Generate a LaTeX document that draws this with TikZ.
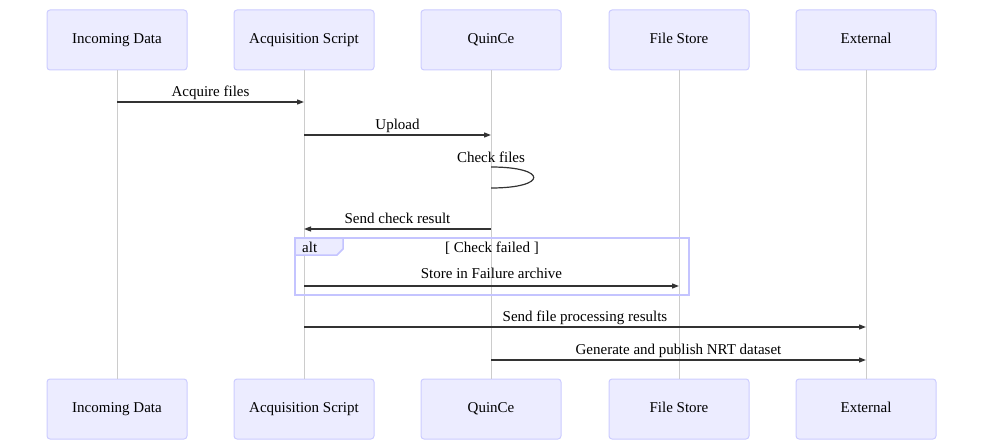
\documentclass[tikz,border=0pt]{standalone}
\usepackage{fontspec}
\setmainfont{Liberation Serif}
\usetikzlibrary{arrows.meta}

\definecolor{actorfill}{HTML}{ECECFF}
\definecolor{actorline}{HTML}{CCCCFF}
\definecolor{altline}{HTML}{C4C4FF}
\definecolor{lifegray}{HTML}{CCCCCC}
\definecolor{msgline}{HTML}{333333}

\begin{document}
\begin{tikzpicture}[x=1pt,y=-1pt,
    actor/.style={draw=actorline,fill=actorfill,line width=1pt,rounded corners=3pt,
      minimum width=140pt,minimum height=60pt,text height=10pt,text depth=3pt,
      font=\fontsize{15}{17}\selectfont},
    lifeline/.style={draw=lifegray,line width=1pt},
    msg/.style={draw=msgline,line width=1.2pt,-{Triangle[length=7pt,width=5pt]}},
    lbl/.style={font=\fontsize{15}{17}\selectfont,inner sep=0pt,anchor=base,yshift=6pt}]
  \useasboundingbox (0,0) rectangle (984,441);

  % participants, top and bottom
  \node[actor] (inc) at (117,40) {Incoming Data};
  \node[actor] (acq) at (304,40) {Acquisition Script};
  \node[actor] (qc)  at (491,40) {QuinCe};
  \node[actor] (fs)  at (679,40) {File Store};
  \node[actor] (ext) at (866,40) {External};

  \node[actor] (inc-b) at (117,409) {Incoming Data};
  \node[actor] (acq-b) at (304,409) {Acquisition Script};
  \node[actor] (qc-b)  at (491,409) {QuinCe};
  \node[actor] (fs-b)  at (679,409) {File Store};
  \node[actor] (ext-b) at (866,409) {External};

  \foreach \a in {inc,acq,qc,fs,ext}
    \draw[lifeline] (\a.south) -- (\a-b.north);

  % alt frame
  \draw[altline,line width=1.5pt] (295,238) rectangle (689,295);
  \draw[altline,line width=1.5pt,fill=actorfill] (295,238) -- (343,238) -- (343,249)
    -- (337,255) -- (295,255) -- cycle;
  \node[font=\fontsize{15}{17}\selectfont,inner sep=0pt,anchor=base west] (altlbl) at (302,252) {alt};
  \node[font=\fontsize{15}{17}\selectfont,inner sep=0pt,anchor=base] (cond) at (492,252) {[ Check failed ]};

  % messages
  \coordinate (m1) at (0,102);
  \coordinate (m2) at (0,135);
  \coordinate (m3a) at (0,167);
  \coordinate (m3b) at (0,188);
  \coordinate (m4) at (0,229);
  \coordinate (m5) at (0,286);
  \coordinate (m6) at (0,327);
  \coordinate (m7) at (0,360);

  \draw[msg] (inc |- m1) -- (acq |- m1) node[lbl,midway] {Acquire files};
  \draw[msg] (acq |- m2) -- (qc |- m2) node[lbl,midway] {Upload};
  \node[lbl] (chk) at (491,168) {Check files};
  \draw[draw=msgline,line width=1.2pt] (qc |- m3a) .. controls (548,167) and (548,188) .. (qc |- m3b);
  \draw[msg] (qc |- m4) -- (acq |- m4) node[lbl,midway] {Send check result};
  \draw[msg] (acq |- m5) -- (fs |- m5) node[lbl,midway,yshift=2pt] {Store in Failure archive};
  \draw[msg] (acq |- m6) -- (ext |- m6) node[lbl,midway] {Send file processing results};
  \draw[msg] (qc |- m7) -- (ext |- m7) node[lbl,midway] {Generate and publish NRT dataset};
\end{tikzpicture}
\end{document}
